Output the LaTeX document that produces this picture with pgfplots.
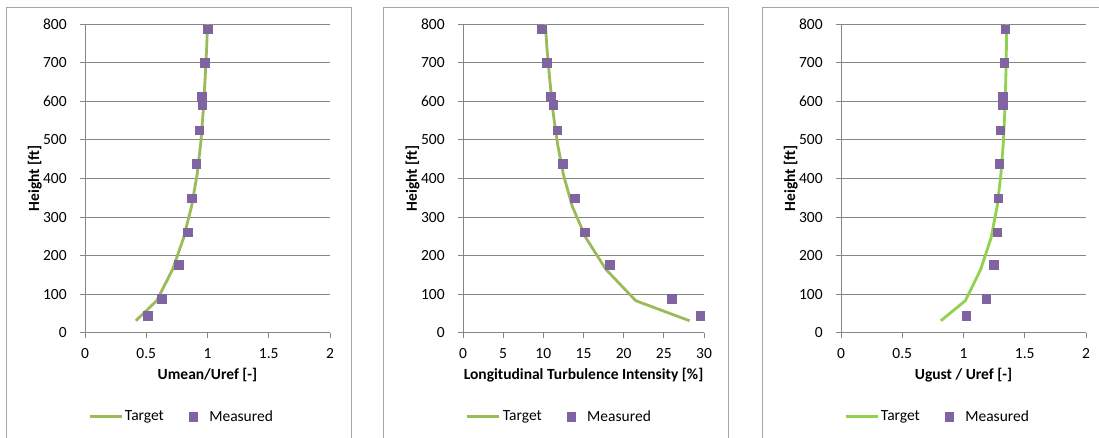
\documentclass[border=0pt]{standalone}
\usepackage{fontspec}
\setmainfont{Carlito}
\usepackage{pgfplots}
\pgfplotsset{compat=1.18}

\definecolor{tgtgreen}{HTML}{9BBB59}
\definecolor{tgtlime}{HTML}{92D050}
\definecolor{meas}{HTML}{8064A2}
\definecolor{gridgray}{HTML}{868686}
\definecolor{framegray}{HTML}{A6A6A6}

\pgfplotsset{
  profile/.style={
    scale only axis, width=245pt, height=308.4pt,
    anchor=south west,
    ymin=0, ymax=800, ytick={0,100,...,800},
    axis lines*=left,
    axis line style={gridgray, line width=0.9pt, -},
    ymajorgrids, grid style={gridgray, line width=0.9pt},
    tick align=outside, major tick length=5pt,
    tick style={gridgray, line width=0.9pt},
    yticklabel style={xshift=-8pt},
    xticklabel style={yshift=-5pt},
    ylabel={Height [ft]},
    ylabel style={at={(axis description cs:-0.205,0.5)}, anchor=center, font=\bfseries},
    xlabel style={at={(axis description cs:0.5,-0.137)}, anchor=center, font=\bfseries},
    /pgf/number format/assume math mode=true,
    clip=false,
    legend columns=2,
    legend style={draw=none, fill=none, at={(0.012,-0.273)}, anchor=west,
      inner sep=0pt},
  },
  target/.style={line width=2.8pt, no markers,
    legend image code/.code={\draw[##1] (0pt,0pt) -- (32pt,0pt);}},
  measured/.style={only marks, mark=square*, mark size=4.2pt,
    mark options={fill=meas, draw=meas},
    legend image code/.code={\draw[mark repeat=2, mark phase=2, ##1] plot coordinates {(0pt,0pt) (8pt,0pt) (16pt,0pt)};}},
}

\begin{document}
\fontsize{15.5}{18.5}\selectfont
\begin{tikzpicture}
\useasboundingbox (0pt,0pt) rectangle (1099pt,438pt);
\fill[white] (0pt,0pt) rectangle (1099pt,438pt);
% panel frames
\draw[framegray, line width=0.9pt] (6pt,0pt) -- (6pt,431pt) -- (351pt,431pt) -- (351pt,0pt);
\draw[framegray, line width=0.9pt] (383pt,0pt) -- (383pt,431pt) -- (728pt,431pt) -- (728pt,0pt);
\draw[framegray, line width=0.9pt] (762pt,0pt) -- (762pt,431pt) -- (1100pt,431pt);

% mean speed
\begin{axis}[profile, at={(85pt,105.3pt)},
  xmin=0, xmax=2, xtick={0,0.5,1,1.5,2},
  xlabel={Umean/Uref [-]}]
\addplot[target, tgtgreen] coordinates {
  (0.415,31) (0.585,83) (0.715,164) (0.805,246) (0.87,328) (0.915,410)
  (0.945,492) (0.965,574) (0.98,656) (0.993,738) (1.0,800)};
\addlegendentry{Target\hspace*{23pt}\mbox{}}
\addplot[measured] coordinates {
  (1.001,788) (0.977,700) (0.952,612) (0.955,591) (0.931,526) (0.906,438)
  (0.871,349) (0.838,261) (0.765,176) (0.626,88) (0.512,44)};
\addlegendentry{\hspace*{10pt}Measured}
\end{axis}

% turbulence intensity
\begin{axis}[profile, at={(463pt,105.3pt)}, width=241pt,
  xmin=0, xmax=30, xtick={0,5,...,30},
  xlabel={Longitudinal Turbulence Intensity [\%]},
  ylabel style={at={(axis description cs:-0.209,0.5)}},
  legend style={at={(0.012,-0.273)}}]
\addplot[target, tgtgreen] coordinates {
  (28.2,31) (21.5,83) (17.8,164) (15.3,246) (13.6,328) (12.5,410)
  (11.75,492) (11.2,574) (10.8,656) (10.45,738) (10.25,800)};
\addlegendentry{Target\hspace*{23pt}\mbox{}}
\addplot[measured] coordinates {
  (9.82,788) (10.44,700) (10.94,612) (11.19,591) (11.69,526) (12.43,438)
  (13.92,349) (15.17,261) (18.28,176) (25.98,88) (29.5,44)};
\addlegendentry{\hspace*{10pt}Measured}
\end{axis}

% gust speed
\begin{axis}[profile, at={(841pt,105.3pt)},
  xmin=0, xmax=2, xtick={0,0.5,1,1.5,2},
  xlabel={Ugust / Uref [-]}]
\addplot[target, tgtlime] coordinates {
  (0.815,31) (1.015,83) (1.14,164) (1.225,246) (1.275,328) (1.305,410)
  (1.325,492) (1.337,574) (1.345,656) (1.35,738) (1.353,800)};
\addlegendentry{Target\hspace*{23pt}\mbox{}}
\addplot[measured] coordinates {
  (1.341,788) (1.332,700) (1.319,612) (1.319,591) (1.30,526) (1.292,438)
  (1.283,349) (1.275,261) (1.245,176) (1.185,88) (1.022,44)};
\addlegendentry{\hspace*{10pt}Measured}
\end{axis}
\end{tikzpicture}
\end{document}
